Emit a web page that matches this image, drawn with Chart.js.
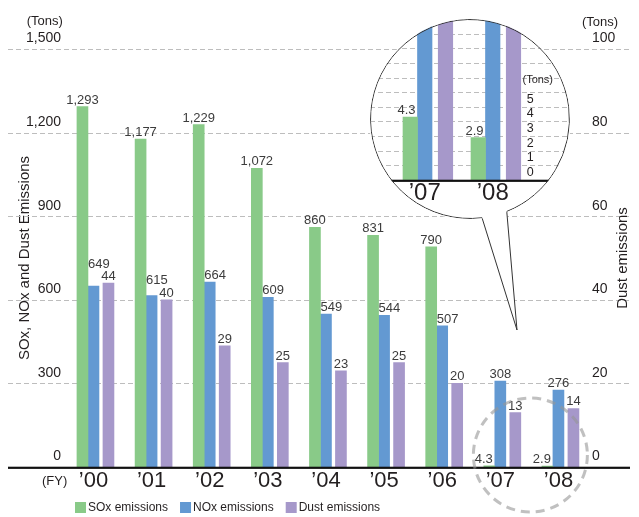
<!DOCTYPE html>
<html>
<head>
<meta charset="utf-8">
<script src="https://cdn.jsdelivr.net/npm/chart.js@4.4.1/dist/chart.umd.min.js"></script>
<style>
  html, body { margin: 0; padding: 0; background: #fff; }
  #wrap { position: relative; width: 639px; height: 517px; overflow: hidden; }
  #main { position: absolute; left: 0; top: 0; }
  #lens { position: absolute; left: 370px; top: 19px; width: 200px; height: 200px;
          border-radius: 50%; overflow: hidden; background: #fff; }
  #zoom { position: absolute; left: 0; top: 0; }
</style>
</head>
<body>
<div id="wrap">
  <canvas id="main" width="639" height="517"></canvas>
  <div id="lens"><canvas id="zoom" width="200" height="200"></canvas></div>
</div>
<script>
// ---- data ----
const categories = ['’00', '’01', '’02', '’03', '’04', '’05', '’06', '’07', '’08'];
const soxValues  = [1293, 1177, 1229, 1072, 860, 831, 790, 4.3, 2.9];
const noxValues  = [649, 615, 664, 609, 549, 544, 507, 308, 276];
const dustValues = [44, 40, 29, 25, 23, 25, 20, 13, 14];
const leftTicks  = [0, 300, 600, 900, 1200, 1500];
const rightTicks = [0, 20, 40, 60, 80, 100];

// close-up of FY2007-2008
const zoomCategories = ['’07', '’08'];
const zoomSox  = [4.3, 2.9];
const zoomNox  = [308, 276];
const zoomDust = [13, 14];
const zoomTicks = [0, 1, 2, 3, 4, 5];
const zoomGridTicks = [0, 1, 2, 3, 4, 5, 6, 7, 8, 9, 10, 11];

// ---- styles ----
const FONT = "'Liberation Sans', Arial, Helvetica, sans-serif";
const INK = '#231f20';
const LABEL_INK = '#3c3c3c';
const GRID = '#bdbdbd';
const COLORS = { sox: '#89ca88', nox: '#6399d2', dust: '#a698ca' };

// magnifier bubble geometry (page pixels)
const LENS = { x: 470, y: 119, r: 100, gapFrom: 68.4, gapTo: 83 };
const TAIL_TIP = { x: 517, y: 330 };

function fmt(v) { return v >= 1000 ? v.toLocaleString('en-US') : String(v); }

// value labels above bars: a label that would run into a taller neighbouring
// bar moves to the free side of its own bar, and a label that would sit on
// top of another label is lifted above it
function drawValueLabels(chart, which, size) {
  const { ctx } = chart;
  const metas = chart.data.datasets.map((d, i) => chart.getDatasetMeta(i));
  const capH = size * 0.72;
  ctx.save();
  ctx.font = `${size}px ${FONT}`;
  ctx.fillStyle = LABEL_INK;
  ctx.textBaseline = 'alphabetic';
  const count = chart.data.labels.length;
  for (let j = 0; j < count; j++) {
    const placed = [];
    [...which].reverse().forEach(di => {
      const bar = metas[di].data[j];
      const text = fmt(chart.data.datasets[di].data[j]);
      const w = ctx.measureText(text).width;
      let bottom = bar.y - 3;
      const left = bar.x - bar.width / 2, right = bar.x + bar.width / 2;
      const prev = metas[di - 1] ? metas[di - 1].data[j] : null;
      const next = metas[di + 1] ? metas[di + 1].data[j] : null;
      let x0 = bar.x - w / 2;
      if (prev && prev.y < bottom && x0 < prev.x + prev.width / 2) {
        x0 = left;
      } else if (next && next.y < bottom && x0 + w > next.x - next.width / 2) {
        x0 = right - 2 - w;
      }
      placed.forEach(p => {
        const hit = x0 < p.x1 && x0 + w > p.x0 && bottom - capH < p.bottom && bottom > p.top;
        if (hit) bottom = p.top - 3;
      });
      placed.push({ x0, x1: x0 + w, top: bottom - capH, bottom });
      ctx.textAlign = 'left';
      ctx.fillText(text, x0, bottom);
    });
  }
  ctx.restore();
}

function dashedLines(ctx, scale, values, x0, x1) {
  ctx.save();
  ctx.strokeStyle = GRID;
  ctx.lineWidth = 1;
  ctx.setLineDash([5, 3]);
  values.forEach(v => {
    if (v === 0) return;
    const py = Math.round(scale.getPixelForValue(v)) + 0.5;
    ctx.beginPath();
    ctx.moveTo(x0, py);
    ctx.lineTo(x1, py);
    ctx.stroke();
  });
  ctx.restore();
}

const rad = d => d * Math.PI / 180;

const mainDecor = {
  id: 'mainDecor',
  beforeDatasetsDraw(chart) {
    dashedLines(chart.ctx, chart.scales.y, leftTicks, 8, 630);
  },
  afterDatasetsDraw(chart) {
    const { ctx } = chart;
    const x = chart.scales.x, y = chart.scales.y;
    drawValueLabels(chart, [0, 1, 2], 13);

    // base line
    const y0 = y.getPixelForValue(0);
    ctx.save();
    ctx.fillStyle = '#111';
    ctx.fillRect(8, y0 - 0.3, 622, 2.2);

    // dashed ring round the last two years
    const cx = (x.getPixelForValue(7) + x.getPixelForValue(8)) / 2 + 1;
    ctx.strokeStyle = 'rgba(150,150,150,0.6)';
    ctx.lineWidth = 3;
    ctx.setLineDash([9, 6]);
    ctx.beginPath();
    ctx.arc(cx, y0 - 12, 57, 0, Math.PI * 2);
    ctx.stroke();
    ctx.restore();
  },
  afterDraw(chart) {
    const { ctx } = chart;
    const x = chart.scales.x, y = chart.scales.y, y2 = chart.scales.y2;
    ctx.save();
    ctx.fillStyle = INK;
    ctx.textBaseline = 'middle';
    ctx.font = `13px ${FONT}`;
    ctx.textAlign = 'right';
    ctx.fillText('(Tons)', y.right - 1.5, y.top - 28);
    ctx.textAlign = 'left';
    ctx.fillText('(Tons)', y2.left - 5.5, y2.top - 27);
    ctx.fillText('(FY)', 42, x.top + 14);

    // legend
    let lx = chart.chartArea.left + 10.6;
    const ly = 502;
    ctx.font = `12px ${FONT}`;
    chart.data.datasets.forEach(ds => {
      ctx.fillStyle = ds.backgroundColor;
      ctx.fillRect(lx, ly, 11, 11);
      ctx.fillStyle = INK;
      ctx.fillText(ds.label, lx + 13, ly + 6);
      lx += 13 + ctx.measureText(ds.label).width + 12;
    });

    ctx.font = `15px ${FONT}`;
    ctx.textAlign = 'center';
    ctx.translate(623, (y2.top + y2.bottom) / 2);
    ctx.rotate(-Math.PI / 2);
    ctx.fillText('Dust emissions', 0, 0);
    ctx.restore();

    // speech-bubble body and tail of the magnifier
    const ax = LENS.x + LENS.r * Math.cos(rad(LENS.gapFrom)), ay = LENS.y + LENS.r * Math.sin(rad(LENS.gapFrom));
    const bx = LENS.x + LENS.r * Math.cos(rad(LENS.gapTo)),   by = LENS.y + LENS.r * Math.sin(rad(LENS.gapTo));
    ctx.save();
    ctx.fillStyle = '#fff';
    ctx.beginPath();
    ctx.arc(LENS.x, LENS.y, LENS.r + 1, rad(LENS.gapTo), rad(LENS.gapFrom) + Math.PI * 2);
    ctx.lineTo(TAIL_TIP.x, TAIL_TIP.y);
    ctx.closePath();
    ctx.fill();
    ctx.strokeStyle = '#333';
    ctx.lineWidth = 1;
    ctx.beginPath();
    ctx.moveTo(ax, ay);
    ctx.lineTo(TAIL_TIP.x, TAIL_TIP.y);
    ctx.lineTo(bx, by);
    ctx.stroke();
    ctx.restore();
  }
};

new Chart(document.getElementById('main'), {
  type: 'bar',
  data: {
    labels: categories,
    datasets: [
      { label: 'SOx emissions',  data: soxValues,  backgroundColor: COLORS.sox,  yAxisID: 'y',  barThickness: 11 },
      { label: 'NOx emissions',  data: noxValues,  backgroundColor: COLORS.nox,  yAxisID: 'y',  barThickness: 11 },
      { label: 'Dust emissions', data: dustValues, backgroundColor: COLORS.dust, yAxisID: 'y2', barThickness: 15, maxBarThickness: 11 }
    ]
  },
  options: {
    responsive: false,
    animation: false,
    devicePixelRatio: 1,
    layout: { padding: { top: 49, bottom: 27, left: 0, right: 0 } },
    scales: {
      x: {
        offset: true,
        grid: { display: false, drawTicks: false },
        border: { display: false },
        ticks: { font: { family: FONT, size: 22 }, color: INK, padding: 1, maxRotation: 0, autoSkip: false },
        afterFit: s => { s.height = 23; s.paddingLeft = 0; s.paddingRight = 0; }
      },
      y: {
        position: 'left', min: 0, max: 1500,
        afterBuildTicks: s => { s.ticks = leftTicks.map(value => ({ value })); },
        grid: { display: false, drawTicks: false },
        border: { display: false },
        ticks: { font: { family: FONT, size: 14 }, color: INK, padding: 3.4, labelOffset: -10.5, autoSkip: false, callback: v => fmt(v) },
        title: { display: true, text: 'SOx, NOx and Dust Emissions', font: { family: FONT, size: 15 }, color: INK, padding: { top: 16, bottom: 0 } },
        afterFit: s => { s.width = 64.4; s.paddingTop = 0; s.paddingBottom = 0; }
      },
      y2: {
        position: 'right', min: 0, max: 100,
        afterBuildTicks: s => { s.ticks = rightTicks.map(value => ({ value })); },
        grid: { display: false, drawTicks: false },
        border: { display: false },
        ticks: { font: { family: FONT, size: 14 }, color: INK, padding: 4.5, labelOffset: -10.5, autoSkip: false },
        afterFit: s => { s.width = 51.5; s.paddingTop = 0; s.paddingBottom = 0; }
      }
    },
    plugins: { legend: { display: false }, tooltip: { enabled: false } }
  },
  plugins: [mainDecor]
});

// ---- magnified view ----
const zoomDecor = {
  id: 'zoomDecor',
  beforeDatasetsDraw(chart) {
    dashedLines(chart.ctx, chart.scales.y, zoomGridTicks, 0, chart.width);
  },
  afterDatasetsDraw(chart) {
    const { ctx } = chart;
    const y = chart.scales.y;
    const y0 = y.getPixelForValue(0);
    ctx.save();
    ctx.fillStyle = '#111';
    ctx.fillRect(0, y0 - 0.3, chart.width, 2.2);
    ctx.restore();
    drawValueLabels(chart, [0], 13);

    ctx.save();
    ctx.fillStyle = INK;
    ctx.font = `11px ${FONT}`;
    ctx.textAlign = 'center';
    ctx.textBaseline = 'middle';
    ctx.fillText('(Tons)', y.left + 11, y.getPixelForValue(zoomTicks[zoomTicks.length - 1]) - 27);

    // outline of the magnifier, open where the tail joins
    ctx.strokeStyle = '#333';
    ctx.lineWidth = 1;
    ctx.beginPath();
    ctx.arc(chart.width / 2, chart.height / 2, LENS.r - 0.5, rad(LENS.gapTo), rad(LENS.gapFrom) + Math.PI * 2);
    ctx.stroke();
    ctx.restore();
  }
};

new Chart(document.getElementById('zoom'), {
  type: 'bar',
  data: {
    labels: zoomCategories,
    datasets: [
      { label: 'SOx emissions',  data: zoomSox,  backgroundColor: COLORS.sox,  barThickness: 14.5 },
      { label: 'NOx emissions',  data: zoomNox,  backgroundColor: COLORS.nox,  barThickness: 14.5 },
      { label: 'Dust emissions', data: zoomDust, backgroundColor: COLORS.dust, barThickness: 20.75, maxBarThickness: 14.5 }
    ]
  },
  options: {
    responsive: false,
    animation: false,
    devicePixelRatio: 1,
    layout: { padding: { left: 20.75, top: 0, right: 0, bottom: 0 } },
    scales: {
      x: {
        grid: { display: false, drawTicks: false },
        border: { display: false },
        ticks: { font: { family: FONT, size: 24 }, color: INK, padding: -1, maxRotation: 0, autoSkip: false },
        afterFit: s => { s.height = 39; s.paddingLeft = 0; s.paddingRight = 0; }
      },
      y: {
        position: 'right', min: 0, max: zoomGridTicks[zoomGridTicks.length - 1],
        afterBuildTicks: s => { s.ticks = zoomGridTicks.map(value => ({ value })); },
        grid: { display: false, drawTicks: false },
        border: { display: false },
        ticks: { font: { family: FONT, size: 12.5 }, color: INK, padding: 0, labelOffset: -7.5, autoSkip: false,
                 callback: v => (zoomTicks.includes(v) ? String(v) : '') },
        afterFit: s => { s.width = 43.25; s.paddingTop = 0; s.paddingBottom = 0; }
      }
    },
    plugins: { legend: { display: false }, tooltip: { enabled: false } }
  },
  plugins: [zoomDecor]
});
</script>
</body>
</html>
